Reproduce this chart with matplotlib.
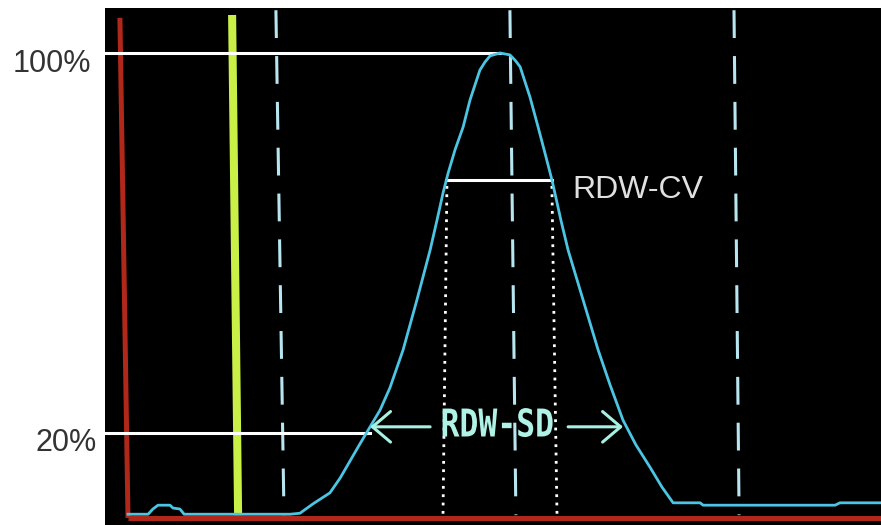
import matplotlib.pyplot as plt
import matplotlib.transforms as mtransforms
from matplotlib.patches import FancyArrowPatch, PathPatch
from matplotlib.textpath import TextPath
from matplotlib.font_manager import FontProperties

# RBC volume histogram (x in fL-like channel units, y in % of peak)
curve_x = [1, 7.7, 9.3, 11, 15, 16, 18.3, 19.7, 55, 58.3, 62.7, 68.3, 71.7, 75, 78.3,
           81.7, 85, 88.3, 92.7, 97.3, 101.7, 104, 106, 107.7, 110, 112.7, 115, 118.3,
           120, 121.7, 125, 128.3, 130, 131.7, 135, 137.7, 140, 142.3, 143.3, 145.3,
           147.7, 152.7, 157.7, 161.7, 166, 170.3, 175, 179, 182.7, 191.7, 192.7,
           236.7, 238.3, 252]
curve_y = [2.9, 2.9, 4.0, 4.8, 4.8, 4.2, 4.0, 2.9, 2.9, 3.1, 5.1, 7.4, 10.5, 14.1, 17.7,
           21.3, 24.8, 29.5, 37.5, 48.0, 58.5, 64.8, 70.5, 74.7, 79.6, 84.4, 90.1, 96.4,
           98.1, 99.4, 100, 99.6, 98.5, 97.1, 90.7, 84.4, 78.9, 73.3, 70.5, 64.8,
           58.5, 48.0, 37.5, 30.1, 22.7, 17.5, 12.8, 8.6, 5.3, 5.3, 4.8,
           4.8, 5.3, 5.3]

# red instrument axes
red_left_x = [-1.7, 1.0]
red_left_y = [107.4, 2.1]
red_bottom_x = [1.0, 252]
red_bottom_y = [2.1, 2.1]

# yellow-green discriminator line
yellow_x = [35.7, 37.7]
yellow_y = [108.0, 2.7]

# dashed discriminator / mode lines (top x, bottom x)
dashed_top = [50.3, 128.3, 203.0]
dashed_bottom = [53.0, 130.3, 204.7]
dash_y = [109, 2.7]

# reference levels
level_100 = 100
level_20 = 20
cv_level = 73.2
cv_left, cv_right = 107.0, 142.3
sd_left, sd_right = 81.7, 166.0
sd_y = 21.3

# dotted lines (x at top, x at bottom)
dot_left = [107.3, 106.0]
dot_right = [142.3, 144.0]
dot_y = [72, 2.7]

W, H = 881, 525
fig = plt.figure(figsize=(W / 100, H / 100), dpi=100)
fig.patch.set_facecolor('white')
ax = fig.add_axes([105 / W, 0, 776 / W, 517 / H])
ax.set_facecolor('black')
ax.set_xlim(-6.67, 252)
ax.set_ylim(0.63, 109.47)
ax.set_xticks([])
ax.set_yticks([])
for s in ax.spines.values():
    s.set_visible(False)

red = '#b0281a'
ax.plot(red_left_x, red_left_y, color=red, lw=3.6, solid_capstyle='butt')
ax.plot(red_bottom_x, red_bottom_y, color=red, lw=3.6, solid_capstyle='butt')

ax.plot(yellow_x, yellow_y, color='#c8f046', lw=5.8, solid_capstyle='butt')

for xt, xb in zip(dashed_top, dashed_bottom):
    ln, = ax.plot([xt, xb], dash_y, color='#b8e6f0', lw=2.2)
    ln.set_dashes((9.1, 5.9))

# white reference lines
ax.plot([-6.67, 125.0], [level_100, level_100], color='white', lw=2.2)
ax.plot([-6.67, sd_left], [level_20, level_20], color='white', lw=2.2)
ax.plot([cv_left, cv_right], [cv_level, cv_level], color='white', lw=2.2)
ax.plot(dot_left, dot_y, color='white', lw=2.0, ls=(0, (1, 2)))
ax.plot(dot_right, dot_y, color='white', lw=2.0, ls=(0, (1, 2)))

ax.plot(curve_x, curve_y, color='#4cc4e4', lw=2.0, zorder=5)

# RDW-SD arrows
arrow_col = '#a8f0e0'
for x0, x1 in [(101.7, sd_left), (147.7, sd_right)]:
    ax.add_patch(FancyArrowPatch((x0, sd_y), (x1, sd_y),
                                 arrowstyle='->,head_length=13,head_width=11',
                                 color=arrow_col, lw=2.2, zorder=6, shrinkA=0, shrinkB=0))

# condensed bold RDW-SD label (tall, narrow like the instrument font)
tp = TextPath((0, 0), 'RDW-SD', size=1,
              prop=FontProperties(family='DejaVu Sans Mono', weight='bold'))
ext = tp.get_extents()
tr = (mtransforms.Affine2D()
      .translate(-ext.x0 - ext.width / 2, -ext.y0 - ext.height / 2)
      .scale(110 / ext.width, 29 / ext.height)
      + mtransforms.ScaledTranslation(124.2, 22.2, ax.transData))
ax.add_patch(PathPatch(tp, transform=tr, facecolor='#b0f2e6', edgecolor='none', zorder=7))

ax.text(149.0, 69.5, 'RDW-CV', color='#e0e0e0', fontsize=23, family='Liberation Sans',
        ha='left', va='baseline')

fig.text(91 / W, 1 - 72 / H, '100%', color='#333333', fontsize=22, family='Liberation Sans',
         ha='right', va='baseline')
fig.text(97 / W, 1 - 451 / H, '20%', color='#333333', fontsize=22, family='Liberation Sans',
         ha='right', va='baseline')

fig.savefig('out.png', dpi=100, facecolor='white')
